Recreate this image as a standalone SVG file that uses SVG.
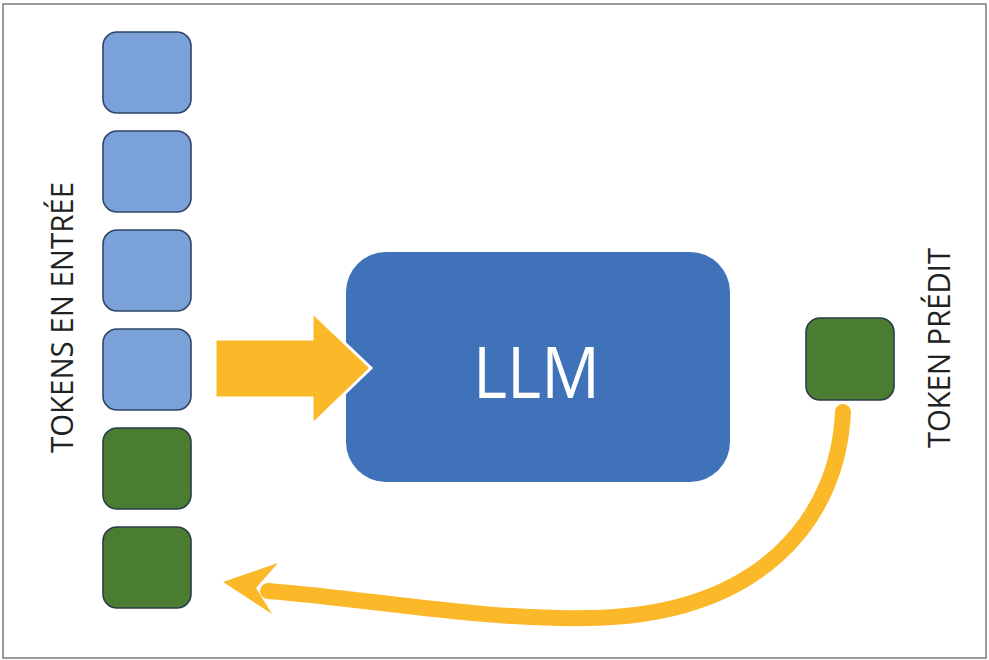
<svg xmlns="http://www.w3.org/2000/svg" width="989" height="660" viewBox="0 0 989 660">
<style>
.tok{stroke-width:1.6}
.blue{fill:#7ba2d8;stroke:#2f4568}
.green{fill:#4a7d32;stroke:#2c3d4a}
.lbl{font-family:"Open Sans","Liberation Sans",sans-serif;font-size:31px;fill:#222}
.yel{fill:#fbb829}
</style>
<rect x="0" y="0" width="989" height="660" fill="#ffffff"/>
<rect x="3" y="4" width="983" height="654" fill="none" stroke="#7a7a7a" stroke-width="1.5"/>
<g id="tokens-in">
<g id="tok1"><rect class="tok blue" x="103" y="32" width="88" height="81" rx="14"/></g>
<g id="tok2"><rect class="tok blue" x="103" y="131" width="88" height="81" rx="14"/></g>
<g id="tok3"><rect class="tok blue" x="103" y="230" width="88" height="81" rx="14"/></g>
<g id="tok4"><rect class="tok blue" x="103" y="329" width="88" height="81" rx="14"/></g>
<g id="tok5"><rect class="tok green" x="103" y="428" width="88" height="81" rx="14"/></g>
<g id="tok6"><rect class="tok green" x="103" y="527" width="88" height="81" rx="14"/></g>
</g>
<g id="label-in"><text class="lbl" transform="translate(73,453) rotate(-90)" textLength="271" lengthAdjust="spacingAndGlyphs">TOKENS EN ENTRÉE</text></g>
<g id="llm">
<rect x="346" y="252" width="384" height="230" rx="40" fill="#3f72b9"/>
<text x="536.5" y="398" text-anchor="middle" font-family="'Open Sans','Liberation Sans',sans-serif" font-size="72" fill="#ffffff" textLength="127" lengthAdjust="spacingAndGlyphs">LLM</text>
</g>
<g id="predicted"><rect class="tok green" x="806" y="318" width="88" height="82" rx="14"/></g>
<g id="label-out"><text class="lbl" transform="translate(950,448) rotate(-90)" textLength="200" lengthAdjust="spacingAndGlyphs">TOKEN PRÉDIT</text></g>
<g id="connectors">
<polygon class="yel" points="215,339 312,339 312,312 371,368 312,425 312,398 215,398" stroke="#ffffff" stroke-width="3" stroke-linejoin="miter"/>
<path d="M843,412 C838,520 760,615 590,618 C480,620 380,600 268,591" fill="none" stroke="#fbb829" stroke-width="16" stroke-linecap="round"/>
<polygon class="yel" points="223,582 278,563 256,588 272,614"/>
</g>
</svg>
